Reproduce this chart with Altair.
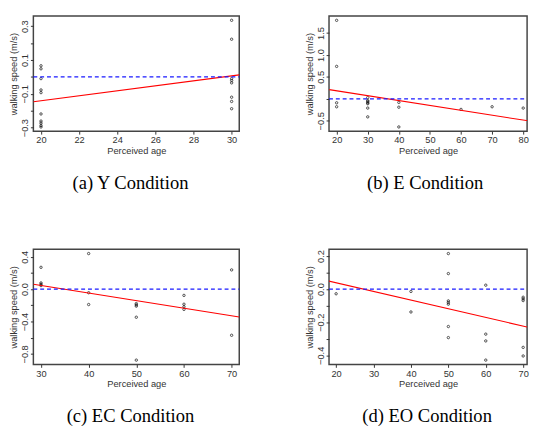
import altair as alt
import pandas as pd

# ---- data ----
# (a) Y condition
a_age = [20] * 10 + [30] * 8
a_speed = [0.066, 0.048, -0.010, -0.077, -0.093, -0.219, -0.261, -0.273, -0.287, -0.296,
           0.335, 0.223, -0.010, -0.021, -0.035, -0.120, -0.145, -0.188]
a_fit_age = [19.6, 30.4]
a_fit_speed = [-0.147, 0.012]

# (b) E condition
b_age = [20] * 4 + [30] * 7 + [40] * 3 + [60, 70, 80]
b_speed = [1.79, 0.74, -0.09, -0.18,
           0.03, -0.04, -0.06, -0.09, -0.11, -0.21, -0.41,
           -0.08, -0.19, -0.64,
           -0.24, -0.18, -0.21]
b_fit_age = [17.6, 82.4]
b_fit_speed = [0.21, -0.51]

# (c) EC condition
c_age = [30] * 4 + [40] * 3 + [50] * 5 + [60] * 4 + [70] * 2
c_speed = [0.27, 0.077, 0.06, 0.044,
           0.44, -0.044, -0.19,
           -0.178, -0.194, -0.21, -0.347, -0.877,
           -0.077, -0.186, -0.218, -0.25,
           0.238, -0.57]
c_fit_age = [28.4, 71.6]
c_fit_speed = [0.06, -0.343]

# (d) EO condition
d_age = [20] + [40] * 2 + [50] * 7 + [60] * 4 + [70] * 5
d_speed = [-0.028,
           -0.014, -0.138,
           0.215, 0.094, -0.071, -0.081, -0.091, -0.226, -0.293,
           0.024, -0.272, -0.313, -0.429,
           -0.049, -0.059, -0.069, -0.352, -0.404]
d_fit_age = [18.0, 72.0]
d_fit_speed = [0.049, -0.234]

# reference (no-change) level
zero_speed = 0.0

# axis ticks (all tick marks) and the subset that carries a label
a_yticks = [-0.3, -0.2, -0.1, 0, 0.1, 0.2, 0.3]
a_ylabels = [-0.3, -0.1, 0.1, 0.3]
b_yticks = [-0.5, 0, 0.5, 1.0, 1.5]
b_ylabels = [-0.5, 0.5, 1.0, 1.5]
c_yticks = [-0.8, -0.6, -0.4, -0.2, 0, 0.2, 0.4]
c_ylabels = [-0.8, -0.4, 0, 0.4]
d_yticks = [-0.4, -0.3, -0.2, -0.1, 0, 0.1, 0.2]
d_ylabels = [-0.4, -0.2, 0, 0.2]

captions = ["(a) Y Condition", "(b) E Condition", "(c) EC Condition", "(d) EO Condition"]

AXIS_FONT = "Liberation Sans"
TXT = "#333333"


def panel(xs, ys, lx, ly, xdom, ydom, xticks, yticks, ylabels, width, caption, dx):
    df = pd.DataFrame({"age": xs, "speed": ys})
    ldf = pd.DataFrame({"age": lx, "speed": ly})
    zdf = pd.DataFrame({"age": xdom, "speed": [zero_speed, zero_speed]})
    xsc = alt.Scale(domain=xdom, nice=False, zero=False)
    ysc = alt.Scale(domain=ydom, nice=False, zero=False)
    keep = "[" + ",".join(str(int(round(v * 10))) for v in ylabels) + "]"
    ylab = f"indexof({keep}, round(datum.value*10)) >= 0 ? datum.label : ''"
    xaxis = alt.Axis(values=xticks, format="d", title="Perceived age", labelOverlap=False)
    yaxis = alt.Axis(values=yticks, format=".1f", labelExpr=ylab,
                     title="walking speed (m/s)",
                     labelAngle=270, labelAlign="center", labelBaseline="bottom",
                     labelOverlap=False, labelSeparation=0)
    enc = dict(x=alt.X("age:Q", scale=xsc, axis=xaxis),
               y=alt.Y("speed:Q", scale=ysc, axis=yaxis))
    pts = alt.Chart(df).mark_point(shape="circle", filled=False, size=6,
                                   strokeWidth=1, color="black").encode(**enc)
    reg = alt.Chart(ldf).mark_line(strokeWidth=1.1, clip=True,
                                   color="#ff0000").encode(**enc)
    zero = alt.Chart(zdf).mark_line(strokeDash=[4, 3], strokeWidth=1.2,
                                    color="#1a1aff").encode(**enc)
    return alt.layer(pts, reg, zero).properties(
        width=width, height=118,
        title=alt.TitleParams(text=caption, orient="bottom", font="Liberation Serif",
                              fontSize=19, fontWeight="normal", color="black",
                              anchor="middle", frame="group", offset=20, dx=dx))


pa = panel(a_age, a_speed, a_fit_age, a_fit_speed, [19.6, 30.4], [-0.321, 0.36],
           [20, 22, 24, 26, 28, 30], a_yticks, a_ylabels, 211, captions[0], -6)
pb = panel(b_age, b_speed, b_fit_age, b_fit_speed, [17.55, 81.25], [-0.737, 1.887],
           [20, 30, 40, 50, 60, 70, 80], b_yticks, b_ylabels, 203, captions[1], -3)
pc = panel(c_age, c_speed, c_fit_age, c_fit_speed, [28.4, 71.6], [-0.93, 0.493],
           [30, 40, 50, 60, 70], c_yticks, c_ylabels, 211, captions[2], -6)
pd_ = panel(d_age, d_speed, d_fit_age, d_fit_speed, [18.1, 71.05], [-0.455, 0.241],
            [20, 30, 40, 50, 60, 70], d_yticks, d_ylabels, 203, captions[3], -1)

chart = alt.vconcat(
    alt.hconcat(pa, pb, spacing=62),
    alt.hconcat(pc, pd_, spacing=62),
    spacing=56,
).properties(
    padding={"left": 0, "top": 2, "right": 0, "bottom": 0}
).configure_view(
    stroke="#444444", strokeWidth=1.5
).configure_axis(
    domain=False, grid=False, tickColor=TXT, tickSize=3, tickWidth=1,
    labelFont=AXIS_FONT, labelFontSize=9.5, labelColor=TXT, labelPadding=1,
    labelOverlap=False,
    titleFont=AXIS_FONT, titleFontSize=9.5, titleFontWeight="normal", titleColor=TXT,
    titlePadding=1
)

chart.save("out.html", embed_options={"renderer": "svg", "actions": False})
